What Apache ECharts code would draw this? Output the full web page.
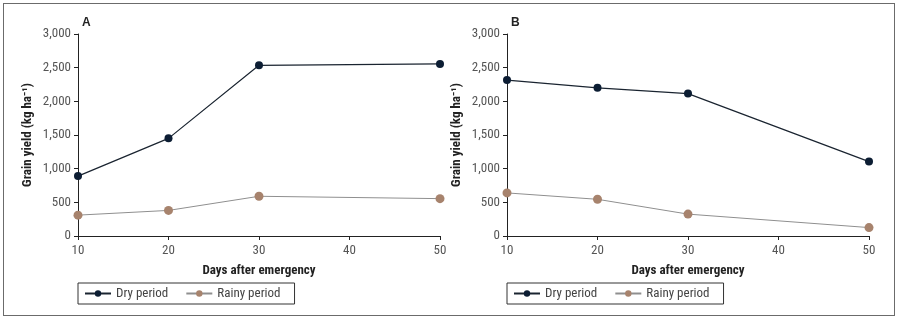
<!DOCTYPE html>
<html>
<head>
<meta charset="utf-8">
<script src="https://cdn.jsdelivr.net/npm/echarts@6/dist/echarts.min.js"></script>
<style>
  html, body { margin: 0; padding: 0; background: #fff; }
  #chart { width: 897px; height: 319px; }
  #frame { position: absolute; left: 3px; top: 3px; width: 890px; height: 311px; border: 1px solid #6b6b6b; pointer-events: none; }
</style>
</head>
<body>
<div id="chart"></div>
<div id="frame"></div>
<script>
const days = [10, 20, 30, 50];
const dryA = [890, 1450, 2535, 2555];
const rainyA = [310, 380, 590, 555];
const dryB = [2315, 2200, 2115, 1105];
const rainyB = [640, 545, 325, 125];
const yTicks = { min: 0, max: 3000, step: 500 };
const xTicks = { min: 10, max: 50, step: 10 };

const FONT = "'Liberation Sans Narrow', 'Roboto Condensed', 'Liberation Sans', sans-serif";
const DRY = '#0c1d33';
const RAINY = '#a7836d';

const pair = (xs, ys) => xs.map((x, i) => [x, ys[i]]);

const chart = echarts.init(document.getElementById('chart'));

const panels = [
  { left: 78, label: 'A', dry: dryA, rainy: rainyA },
  { left: 507, label: 'B', dry: dryB, rainy: rainyB },
];

const xAxes = panels.map((p, i) => ({
  type: 'value', gridIndex: i,
  min: xTicks.min, max: xTicks.max, interval: xTicks.step,
  name: 'Days after emergency', nameLocation: 'middle', nameGap: 28,
  nameTextStyle: { fontFamily: FONT, fontWeight: 'bold', fontSize: 13, color: '#222' },
  axisLine: { lineStyle: { color: '#222', width: 1 } },
  axisTick: { show: true, length: 4, lineStyle: { color: '#222' } },
  axisLabel: { fontFamily: FONT, fontSize: 13, color: '#555', margin: 8 },
  splitLine: { show: false },
}));

const yAxes = panels.map((p, i) => ({
  type: 'value', gridIndex: i,
  min: yTicks.min, max: yTicks.max, interval: yTicks.step,
  name: 'Grain yield (kg ha⁻¹)', nameLocation: 'middle', nameGap: 44,
  nameTextStyle: { fontFamily: FONT, fontWeight: 'bold', fontSize: 13, color: '#222' },
  axisLine: { show: true, lineStyle: { color: '#222', width: 1 } },
  axisTick: { show: true, length: 4, lineStyle: { color: '#222' } },
  axisLabel: {
    fontFamily: FONT, fontSize: 13, color: '#555', margin: 7,
    formatter: v => v.toLocaleString('en-US'),
  },
  splitLine: { show: false },
}));

const series = [];
panels.forEach((p, i) => {
  series.push({
    name: 'Dry period', type: 'line', xAxisIndex: i, yAxisIndex: i,
    data: pair(days, p.dry), symbol: 'circle', symbolSize: 8,
    lineStyle: { color: '#1a2430', width: 1.2 },
    itemStyle: { color: DRY },
  });
  series.push({
    name: 'Rainy period', type: 'line', xAxisIndex: i, yAxisIndex: i,
    data: pair(days, p.rainy), symbol: 'circle', symbolSize: 9,
    lineStyle: { color: '#8f8f8f', width: 1 },
    itemStyle: { color: RAINY },
  });
});

chart.setOption({
  animation: false,
  grid: panels.map(p => ({ left: p.left, top: 34, width: 362, height: 202 })),
  xAxis: xAxes,
  yAxis: yAxes,
  series: series,
  legend: panels.map(p => ({
    left: p.left, top: 283,
    orient: 'horizontal', itemGap: 17, itemWidth: 26, itemHeight: 8,
    padding: [4, 14, 4, 6],
    borderColor: '#333', borderWidth: 1,
    textStyle: { fontFamily: FONT, fontSize: 13, color: '#444' },
    data: ['Dry period', 'Rainy period'],
  })),
  graphic: panels.map(p => ({
    type: 'text', left: p.left + 4, top: 17,
    style: { text: p.label, font: "bold 12px 'Liberation Sans Narrow', sans-serif", fill: '#222' },
  })),
});
</script>
</body>
</html>
